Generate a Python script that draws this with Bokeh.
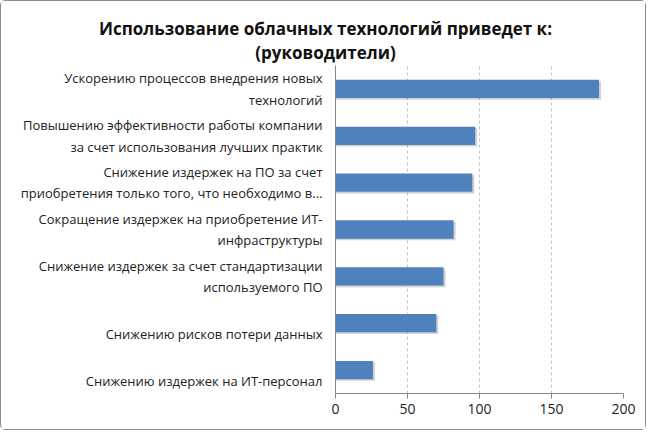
from bokeh.embed import file_html
from bokeh.layouts import column
from bokeh.models import ColumnDataSource, FixedTicker, Label, Range1d
from bokeh.plotting import figure
from bokeh.resources import INLINE
from bokeh.transform import dodge

title_lines = ["Использование облачных технологий приведет к:", "(руководители)"]

# top to bottom as in the original; one-line labels get an empty first line
# so that they sit low in their band like Excel puts them
categories = [
    "Ускорению процессов внедрения новых\nтехнологий",
    "Повышению эффективности работы компании\nза счет использования лучших практик",
    "Снижение издержек на ПО за счет\nприобретения только того, что необходимо в...",
    "Сокращение издержек на приобретение ИТ-\nинфраструктуры",
    "Снижение издержек за счет стандартизации\nиспользуемого ПО",
    "\nСнижению рисков потери данных",
    "\nСнижению издержек на ИТ-персонал",
]
counts = [183, 97, 95, 82, 75, 70, 26]
x_ticks = [0, 50, 100, 150, 200]

FONT = "Open Sans"
W = 644

# title strip: a bare figure measured in pixels (y grows downwards),
# so the title is centred over the whole chart and not over the bars
head = figure(width=W, height=64, x_range=Range1d(0, W), y_range=Range1d(64, 0),
              x_axis_location=None, y_axis_location=None, title_location=None,
              output_backend="svg", toolbar_location=None,
              min_border=0, outline_line_color=None)
head.frame_align = False  # don't line its frame up with the bar chart's frame
head.grid.grid_line_color = None
for i, line in enumerate(title_lines):
    head.add_layout(Label(x=324, y=27 + 24 * i, text=line,
                          text_align="center", text_baseline="middle",
                          text_font=FONT, text_font_style="bold",
                          text_font_size="17px", text_color="#111111"))

# bokeh puts the first factor at the bottom
src = ColumnDataSource(data=dict(cat=categories[::-1], val=counts[::-1]))

p = figure(width=W, height=364,
           y_range=categories[::-1],
           x_range=Range1d(0, 200),
           title_location=None,
           output_backend="svg",
           toolbar_location=None,
           min_border_left=334, min_border_right=22,
           min_border_top=0, min_border_bottom=36)
p.frame_align = False

# soft shadow behind the bars
p.hbar(y=dodge("cat", -0.035, range=p.y_range), left=0, right=dodge("val", 1.4),
       height=0.39, source=src, fill_color="black", fill_alpha=0.18, line_color=None)
p.hbar(y="cat", left=0, right="val", height=0.39, source=src,
       fill_color="#4F81BD", line_color=None)

p.outline_line_color = None
p.ygrid.grid_line_color = None
p.xgrid.grid_line_color = "#c4c4c4"
p.xgrid.grid_line_dash = "3 3"

p.xaxis.ticker = FixedTicker(ticks=x_ticks)
p.xaxis.axis_line_color = "#868686"
p.xaxis.major_tick_line_color = "#868686"
p.xaxis.major_tick_out = 5
p.xaxis.major_tick_in = 0
p.xaxis.minor_tick_line_color = None
p.xaxis.major_label_text_font = FONT
p.xaxis.major_label_text_font_size = "14px"
p.xaxis.major_label_text_color = "#222222"

p.yaxis.axis_line_color = "#868686"
p.yaxis.major_tick_line_color = None
p.yaxis.major_tick_out = 0
p.yaxis.major_tick_in = 0
p.yaxis.major_label_standoff = 13
p.yaxis.major_label_text_font = FONT
p.yaxis.major_label_text_font_size = "13px"
p.yaxis.major_label_text_color = "#222222"
p.yaxis.major_label_text_align = "center"  # Excel centres the lines of a label

page = column(head, p, spacing=0)
page.styles = {"border": "1px solid #8c8c8c", "border-radius": "5px"}

open("out.html", "w").write(file_html(page, INLINE))
